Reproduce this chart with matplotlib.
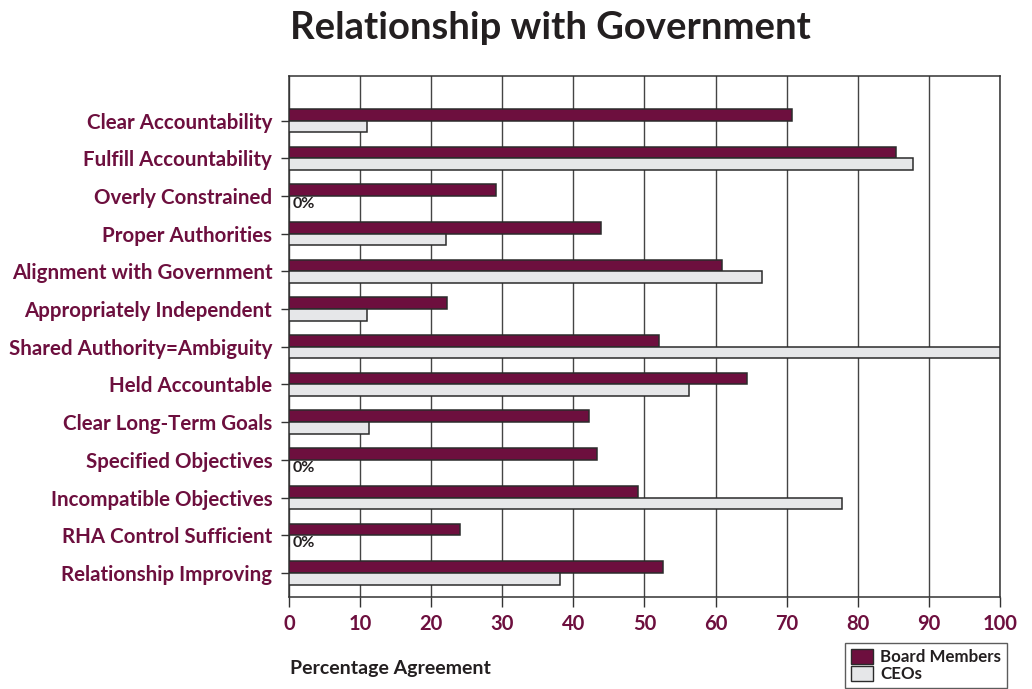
import numpy as np
import matplotlib
matplotlib.use("Agg")
import matplotlib.pyplot as plt
from matplotlib.patches import Patch

categories = [
    "Clear Accountability",
    "Fulfill Accountability",
    "Overly Constrained",
    "Proper Authorities",
    "Alignment with Government",
    "Appropriately Independent",
    "Shared Authority=Ambiguity",
    "Held Accountable",
    "Clear Long-Term Goals",
    "Specified Objectives",
    "Incompatible Objectives",
    "RHA Control Sufficient",
    "Relationship Improving",
]
board = [70.7, 85.4, 29.1, 43.9, 60.9, 22.2, 52.0, 64.4, 42.2, 43.3, 49.1, 24.1, 52.6]
ceos = [11.0, 87.8, 0, 22.1, 66.5, 11.0, 100.0, 56.3, 11.2, 0, 77.8, 0, 38.1]
xticks = list(range(0, 101, 10))

maroon = "#6d0f3e"
light = "#e6e7e9"
edge = "#2b2b2b"
dark = "#231f20"

plt.rcParams["font.family"] = ["Lato", "DejaVu Sans"]
plt.rcParams["font.weight"] = "bold"

fig = plt.figure(figsize=(10.32, 6.89), dpi=100)
ax = fig.add_axes([0.280, 0.1335, 0.689, 0.7565])

y = np.arange(len(categories))
h = 0.31
ax.barh(y - h / 2, board, height=h, color=maroon, edgecolor=edge, linewidth=1.1, zorder=3)
ax.barh(y + h / 2, ceos, height=h, color=light, edgecolor=edge, linewidth=1.1, zorder=3)

# zero-value CEO bars get a text marker instead
for yi, v in zip(y, ceos):
    if v == 0:
        ax.text(0.5, yi + h / 2 + 0.05, "0%", fontsize=11.5, fontweight="bold",
                color=dark, va="center", ha="left", zorder=4)

ax.set_xlim(0, 100)
ax.set_ylim(12.64, -1.19)
ax.set_xticks(xticks)
ax.set_yticks(y)
ax.set_yticklabels(categories)
ax.xaxis.grid(True, color="#444444", linewidth=1.0, zorder=0)
ax.tick_params(axis="x", length=7, width=1, color="#333333", labelsize=14.5,
               labelcolor=maroon, pad=5)
ax.tick_params(axis="y", length=6, width=1, color="#333333", labelsize=14.8,
               labelcolor=maroon, pad=6)
for s in ax.spines.values():
    s.set_color("#333333")
    s.set_linewidth(1.1)

fig.text(0.281, 0.960, "Relationship with Government", fontsize=27.5, fontweight="bold",
         color=dark, ha="left", va="center")
fig.text(0.281, 0.030, "Percentage Agreement", fontsize=14, fontweight="bold",
         color=dark, ha="left", va="center")

handles = [Patch(facecolor=maroon, edgecolor=edge, label="Board Members"),
           Patch(facecolor=light, edgecolor=edge, label="CEOs")]
leg = fig.legend(handles=handles, loc="upper left", bbox_to_anchor=(0.819, 0.067),
                 frameon=True, fancybox=False, fontsize=12.2, handlelength=1.3,
                 handleheight=1.0, handletextpad=0.4, labelspacing=0.05,
                 borderpad=0.35, borderaxespad=0)
leg.get_frame().set_edgecolor("#333333")
leg.get_frame().set_linewidth(1.0)
for t in leg.get_texts():
    t.set_color(dark)

fig.savefig("out.png", dpi=100)
